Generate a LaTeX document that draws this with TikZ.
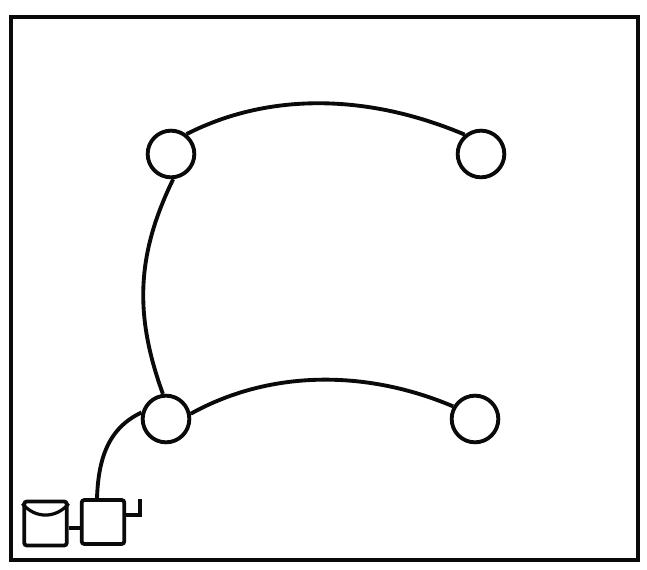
\documentclass[tikz,border=0pt]{standalone}
\usepackage{xcolor}
\usetikzlibrary{positioning}
\definecolor{cInk}{HTML}{0A0A0A}
\tikzset{
  frm/.style  ={draw=cInk,line width=3pt,minimum width=470pt,minimum height=407pt,inner sep=0pt},
  stn/.style  ={circle,draw=cInk,line width=2.9pt,minimum size=35pt,inner sep=0pt},
  unit/.style ={rounded corners=2pt,draw=cInk,line width=2.8pt,minimum width=32pt,minimum height=33pt,inner sep=0pt},
  ar/.style   ={line width=2.9pt,cInk},
}
\begin{document}
\begin{tikzpicture}[x=0.75pt,y=-0.75pt]
\useasboundingbox (0,0) rectangle (647,570);
\node[frm] (fr) at (324.5,288.5) {};

\node[stn] (s1) at (171,154) {};
\node[stn] (s2) at (481,154) {};
\node[stn] (s3) at (166,419) {};
\node[stn] (s4) at (475,419) {};

\node[unit] (disk) at (45.5,523.5) {};
\node[unit] (cpu) at (103,522) {};
\coordinate (stub) at (140,515);
\coordinate (stubt) at (140,499);

\draw[ar] (s1.52) to[out=27,in=157,looseness=0.9] (s2.130);
\draw[ar] (s1.-85) to[out=-116,in=110] (s3.97);
\draw[ar] (s3.12) to[out=29,in=157,looseness=0.9] (s4.150);
\draw[ar] (s3.165) to[out=205,in=88] (cpu.north -| 97,0);

\draw[ar] (disk.east |- 0,528) -- (cpu.west |- 0,528);
\draw[ar] (cpu.east |- stub) -- (stub) -- (stubt);
\draw[line width=2.4pt,cInk] ([yshift=-3pt]disk.north west) to[out=-50,in=230,looseness=1.1] ([yshift=-3pt]disk.north east);
\end{tikzpicture}
\end{document}
